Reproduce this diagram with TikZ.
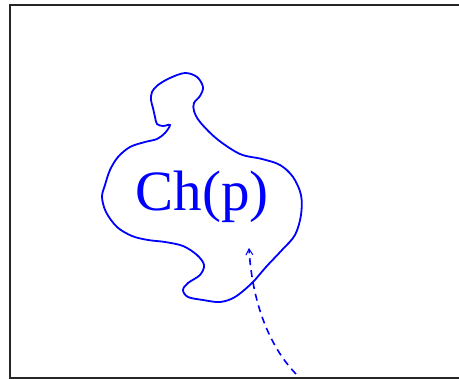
\documentclass[tikz,border=0pt]{standalone}
\usepackage{fontspec}
\setmainfont{Liberation Serif}
\usetikzlibrary{arrows.meta}
\definecolor{pureblue}{RGB}{0,0,255}
\tikzset{
  blob/.style={draw=pureblue, line width=1.8pt},
  flow/.style={draw=pureblue, line width=1.6pt, dash pattern=on 7pt off 5pt,
    -{Straight Barb[length=6pt,width=7pt,line width=1pt]}},
  frame/.style={draw=black!85, line width=1.8pt},
  lbl/.style={text=pureblue, font=\fontsize{57}{60}\selectfont, inner sep=0pt}
}
\begin{document}
\begin{tikzpicture}[x=1pt,y=-1pt]
\useasboundingbox (0,0) rectangle (459,379);
\clip (0,0) rectangle (459,379);
\draw[frame] (10,5) rectangle (475,378);
\draw[blob] plot[smooth cycle, tension=0.55] coordinates {
(185,73) (197,77) (203,87) (200,96) (194,103) (194,111) (200,122) (217,139)
(240,154) (262,159) (280,165) (293,177) (301,195) (301,215) (295,235) (282,250)
(266,267) (252,283) (235,297) (220,302) (203,300) (188,297) (183,290) (188,283)
(200,275) (204,265) (197,255) (183,246) (165,242) (148,240) (132,236) (117,227)
(106,212) (102,197) (105,185) (110,170) (118,157) (130,147) (145,142) (157,139)
(165,133) (170,125) (163,126) (157,124) (155,117) (153,108) (151,100) (152,92)
(158,85) (170,78)};
\node[lbl] (ch) at (202,197) {Ch(p)};
\coordinate (start) at (296,374);
\coordinate (tip) at (249,248);
\draw[flow] (start) .. controls (268,345) and (252,300) .. (tip);
\end{tikzpicture}
\end{document}
